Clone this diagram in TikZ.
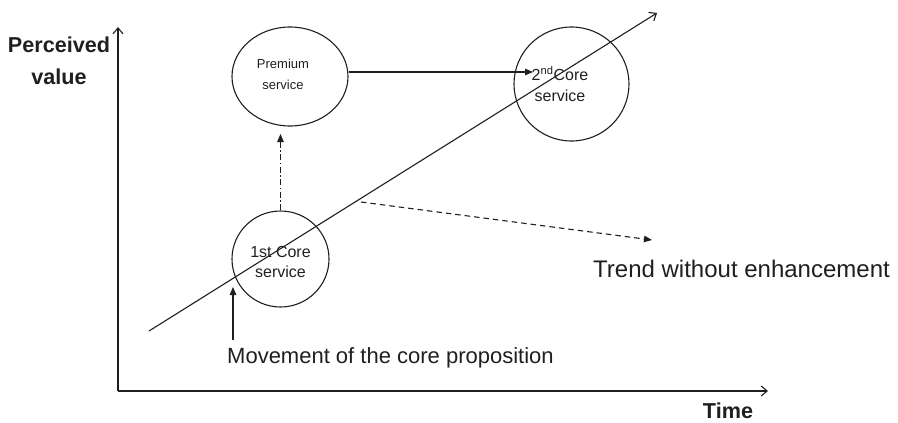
\documentclass[tikz,border=0pt]{standalone}
\usepackage{fontspec}
\setmainfont{Liberation Sans}
\usetikzlibrary{arrows.meta,shapes.geometric}
\begin{document}
\begin{tikzpicture}[x=1pt,y=-1pt,
  ink/.style={draw=black!88, line width=1.1pt},
  openhead/.style={-{Straight Barb[length=6pt,width=10pt]}},
  solidhead/.style={-{Triangle[length=8pt,width=6.5pt]}},
  dashdot/.style={dash pattern=on 6pt off 2.5pt on 1.5pt off 2.5pt},
  dashline/.style={dash pattern=on 5.5pt off 4pt},
  bubble/.style={ellipse, draw=black!88, line width=1.1pt, inner sep=0pt},
  txt/.style={text=black!88, inner sep=0pt},
  small/.style={txt, font=\fontsize{13}{21}\selectfont, align=center},
  mid/.style={txt, font=\fontsize{16}{20.5}\selectfont, align=center},
  big/.style={txt, font=\fontsize{24}{28}\selectfont},
  axislabel/.style={txt, font=\bfseries\fontsize{21.6}{32}\selectfont, align=center}]
\useasboundingbox (0,0) rectangle (898,423);

% axes
\coordinate (O) at (118,391);
\coordinate (ytop) at (118,27);
\coordinate (xend) at (768,391);
\draw[ink, openhead] (O) -- (ytop);
\draw[ink, openhead] (O) -- (xend);
\node[axislabel] (ylabel) at (59,61) {Perceived\\value};
\node[axislabel, anchor=base] (xlabel) at (728,418.5) {Time};

% service bubbles
\node[bubble, minimum width=116pt, minimum height=99pt] (premium) at (290,76.5) {};
\node[bubble, minimum width=115pt, minimum height=114pt] (core2) at (571.5,84) {};
\node[bubble, minimum width=97pt, minimum height=96pt] (core1) at (280.5,259) {};

% rising trend of the core proposition
\coordinate (trendA) at (149,331);
\coordinate (trendB) at (657,13);
\draw[ink, openhead] (trendA) -- (trendB);

% bubble captions
\node[small] (premiumtxt) at (283,74) {Premium\\service};
\node[mid] (core2txt) at (560,84) {2\textsuperscript{nd}Core\\service};
\node[mid] (core1txt) at (280.5,262) {1st Core\\service};

% premium service becomes the 2nd core service
\coordinate (core2in) at (533,72);
\draw[ink, solidhead] (premium.east |- core2in) -- (core2in);

% 1st core service enhanced to premium
\coordinate (premiumgap) at (280.5,134);
\draw[ink, dashdot, solidhead] (core1.north) -- (premiumgap);

% trend without enhancement
\coordinate (dashA) at (361,202);
\coordinate (dashB) at (652,240);
\draw[ink, dashline, solidhead] (dashA) -- (dashB);
\node[big, anchor=base west] (trendtxt) at (593,277) {Trend without enhancement};

% movement of the core proposition
\coordinate (moveA) at (233,340);
\coordinate (moveB) at (233,287);
\draw[ink, solidhead] (moveA) -- (moveB);
\node[txt, font=\fontsize{22}{26}\selectfont, anchor=base west] (movetxt) at (227,363) {Movement of the core proposition};
\end{tikzpicture}
\end{document}
